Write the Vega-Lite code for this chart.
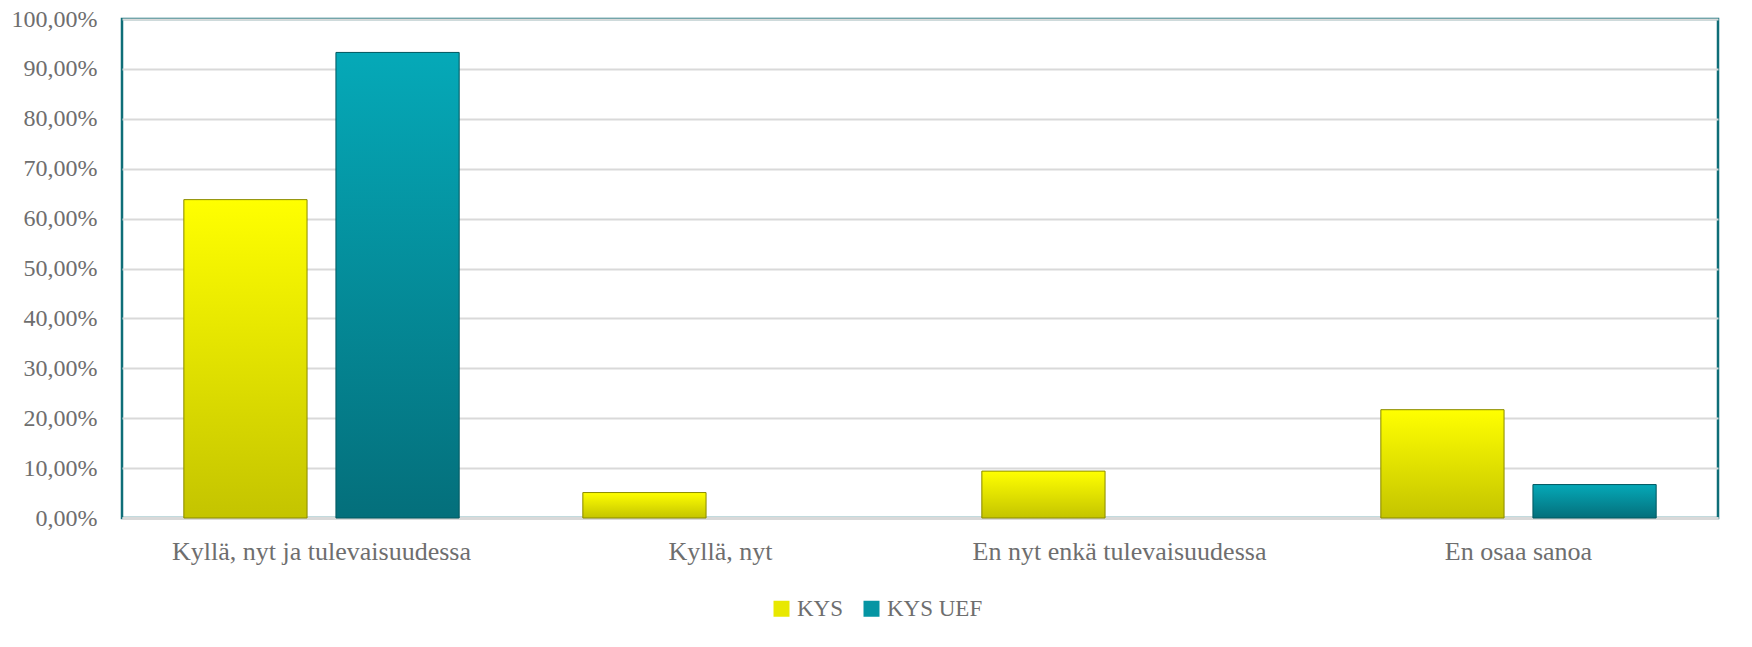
{
  "$schema": "https://vega.github.io/schema/vega-lite/v6.json",
  "width": 1596,
  "height": 499,
  "autosize": {"type": "none"},
  "padding": {"left": 122, "top": 19, "right": 34, "bottom": 129},
  "background": "white",
  "data": {
    "values": [
      {"category": "Kyllä, nyt ja tulevaisuudessa", "series": "KYS", "value": 63.8},
      {"category": "Kyllä, nyt ja tulevaisuudessa", "series": "KYS UEF", "value": 93.3},
      {"category": "Kyllä, nyt", "series": "KYS", "value": 5.1},
      {"category": "Kyllä, nyt", "series": "KYS UEF", "value": 0},
      {"category": "En nyt enkä tulevaisuudessa", "series": "KYS", "value": 9.4},
      {"category": "En nyt enkä tulevaisuudessa", "series": "KYS UEF", "value": 0},
      {"category": "En osaa sanoa", "series": "KYS", "value": 21.7},
      {"category": "En osaa sanoa", "series": "KYS UEF", "value": 6.7}
    ]
  },
  "encoding": {
    "x": {
      "field": "category",
      "type": "nominal",
      "sort": null,
      "title": null,
      "scale": {"paddingInner": 0.31, "paddingOuter": 0.155},
      "axis": {
        "labelAngle": 0,
        "labelLimit": 0,
        "labelFont": "Liberation Serif",
        "labelFontSize": 26,
        "labelColor": "#6e6e6e",
        "labelPadding": 20,
        "ticks": false,
        "domainColor": "#d9d9d9",
        "domainWidth": 3
      }
    },
    "xOffset": {
      "field": "series",
      "type": "nominal",
      "scale": {"domain": ["KYS", "KYS UEF"], "paddingInner": 0.19, "paddingOuter": 0}
    },
    "y": {
      "field": "value",
      "type": "quantitative",
      "title": null,
      "scale": {"domain": [0, 100], "nice": false},
      "axis": {
        "values": [0, 10, 20, 30, 40, 50, 60, 70, 80, 90, 100],
        "labelExpr": "replace(format(datum.value, '.2f'), '.', ',') + '%'",
        "labelFont": "Liberation Serif",
        "labelFontSize": 24,
        "labelColor": "#6e6e6e",
        "labelPadding": 25,
        "ticks": false,
        "domain": false,
        "gridColor": "#d9d9d9",
        "gridWidth": 2
      }
    }
  },
  "layer": [
    {
      "mark": {"type": "bar"},
      "encoding": {
        "color": {
          "field": "series",
          "type": "nominal",
          "title": null,
          "scale": {"domain": ["KYS", "KYS UEF"], "range": ["#e8e800", "#0595a3"]},
          "legend": {
            "orient": "none",
            "direction": "horizontal",
            "legendX": 648,
            "legendY": 578,
            "symbolType": "square",
            "symbolSize": 256,
            "symbolStrokeWidth": 0.5,
            "labelFont": "Liberation Serif",
            "labelFontSize": 23,
            "labelColor": "#6e6e6e",
            "columnPadding": 16,
            "labelOffset": 4
          }
        }
      }
    },
    {
      "transform": [{"filter": "datum.series === 'KYS' && datum.value > 0"}],
      "mark": {
        "type": "bar",
        "stroke": "#8a8a00",
        "strokeWidth": 1,
        "color": {"gradient": "linear", "x1": 0, "y1": 0, "x2": 0, "y2": 1, "stops": [{"offset": 0, "color": "#ffff00"}, {"offset": 1, "color": "#c4c400"}]}
      }
    },
    {
      "transform": [{"filter": "datum.series === 'KYS UEF' && datum.value > 0"}],
      "mark": {
        "type": "bar",
        "stroke": "#035860",
        "strokeWidth": 1,
        "color": {"gradient": "linear", "x1": 0, "y1": 0, "x2": 0, "y2": 1, "stops": [{"offset": 0, "color": "#05a9b8"}, {"offset": 1, "color": "#046f7b"}]}
      }
    }
  ],
  "config": {
    "view": {"stroke": "#0f6e78", "strokeWidth": 2.5}
  }
}
